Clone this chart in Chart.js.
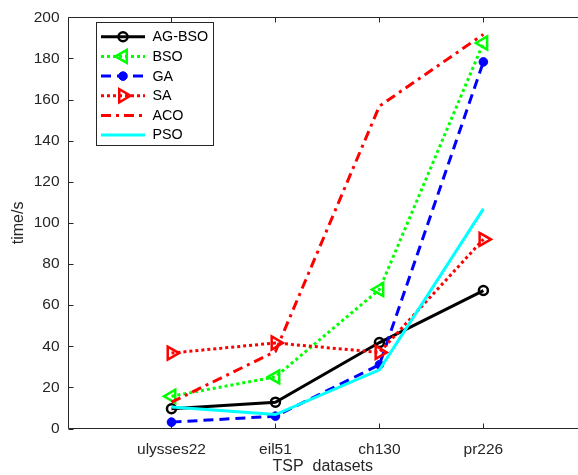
<!DOCTYPE html>
<html><head><meta charset="utf-8">
<script src="https://cdn.jsdelivr.net/npm/chart.js@4/dist/chart.umd.min.js"></script>
<style>html,body{margin:0;padding:0;background:#fff;} #wrap{width:578px;height:475px;position:relative;overflow:hidden;}</style>
</head><body><div id="wrap"><canvas id="c" width="578" height="475"></canvas></div>
<script>
// ---- data ----
const categories = ['ulysses22', 'eil51', 'ch130', 'pr226'];
const seriesNames = ['AG-BSO', 'BSO', 'GA', 'SA', 'ACO', 'PSO'];
const agbso = [9.6, 12.8, 41.8, 67.1];
const bso   = [15.7, 25.1, 67.6, 187.5];
const ga    = [3.1, 6.0, 31.0, 178.3];
const sa    = [36.7, 41.6, 37.0, 92.0];
const aco   = [12.8, 37.5, 156.8, 191.7];
const pso   = [10.5, 6.8, 28.5, 106.8];
const yTicks = [0, 20, 40, 60, 80, 100, 120, 140, 160, 180, 200];
const xTitle = 'TSP  datasets';
const yTitle = 'time/s';

const AX = '#262626';
const FONT = 'Liberation Sans, Arial, Helvetica, sans-serif';

function pts(arr){ return arr.map((v,i)=>({x:i+1, y:v})); }

const styles = [
  {color:'#000000', dash:[], pt:'circle', r:4.5, fill:'rgba(0,0,0,0)', rot:0, bw:2.5},
  {color:'#00ff00', dash:[3,3], pt:'triangle', r:7.5, fill:'rgba(0,0,0,0)', rot:-90, bw:2.5},
  {color:'#0000ff', dash:[10,6], pt:'circle', r:4.3, fill:'#0000ff', rot:0, bw:1},
  {color:'#ff0000', dash:[3,3], pt:'triangle', r:7.5, fill:'rgba(0,0,0,0)', rot:90, bw:2.5},
  {color:'#ff0000', dash:[10,5,3,5], pt:false, r:0, fill:'#ff0000', rot:0, bw:0},
  {color:'#00ffff', dash:[], pt:false, r:0, fill:'#00ffff', rot:0, bw:0}
];
const values = [agbso, bso, ga, sa, aco, pso];

const datasets = values.map((v,i)=>({
  label: seriesNames[i],
  data: pts(v),
  borderColor: styles[i].color,
  backgroundColor: styles[i].color,
  borderWidth: 3,
  borderDash: styles[i].dash,
  tension: 0,
  pointStyle: styles[i].pt || 'circle',
  pointRadius: styles[i].r,
  pointRotation: styles[i].rot,
  pointBackgroundColor: styles[i].fill,
  pointBorderColor: styles[i].color,
  pointBorderWidth: styles[i].bw,
  order: values.length - i,
  clip: false
}));

const frame = {
  id: 'frame',
  beforeDatasetsDraw(chart){
    const {ctx, chartArea:a, scales:{x, y}} = chart;
    const L = Math.round(a.left)+0.5, T = Math.round(a.top)+0.5, B = Math.round(a.bottom)-0.5, R = a.right;
    ctx.save();
    ctx.strokeStyle = AX; ctx.lineWidth = 1; ctx.setLineDash([]);
    ctx.beginPath();
    ctx.moveTo(R, T); ctx.lineTo(L, T); ctx.lineTo(L, B); ctx.lineTo(R, B);
    x.ticks.forEach(t=>{
      const px = Math.round(x.getPixelForValue(t.value))+0.5;
      ctx.moveTo(px, B); ctx.lineTo(px, B-5);
      ctx.moveTo(px, T); ctx.lineTo(px, T+5);
    });
    y.ticks.forEach(t=>{
      const py = Math.round(y.getPixelForValue(t.value))+0.5;
      ctx.moveTo(L, py); ctx.lineTo(L+5, py);
    });
    ctx.stroke();
    ctx.restore();
  }
};

function marker(ctx, s, cx, cy){
  if(!s.pt) return;
  ctx.save();
  ctx.setLineDash([]);
  ctx.lineWidth = s.bw;
  ctx.strokeStyle = s.color;
  ctx.fillStyle = s.fill;
  ctx.translate(cx, cy);
  ctx.rotate(s.rot*Math.PI/180);
  ctx.beginPath();
  if(s.pt === 'circle'){
    ctx.arc(0,0,s.r,0,Math.PI*2);
  } else {
    const r = s.r;
    ctx.moveTo(0, -r);
    ctx.lineTo(r*Math.sqrt(3)/2, r/2);
    ctx.lineTo(-r*Math.sqrt(3)/2, r/2);
    ctx.closePath();
  }
  ctx.fill(); ctx.stroke();
  ctx.restore();
}

const legendBox = {
  id: 'legendBox',
  afterDraw(chart){
    const ctx = chart.ctx;
    const bx = 96.5, by = 22.5, bw = 117, bh = 123;
    ctx.save();
    ctx.fillStyle = '#ffffff';
    ctx.fillRect(bx, by, bw, bh);
    ctx.strokeStyle = AX; ctx.lineWidth = 1; ctx.setLineDash([]);
    ctx.strokeRect(bx, by, bw, bh);
    ctx.font = '14.3px ' + FONT;
    ctx.textBaseline = 'middle';
    ctx.textAlign = 'left';
    chart.data.datasets.forEach((d,i)=>{
      const s = styles[i];
      const yy = 36.8 + i*19.65;
      ctx.save();
      ctx.strokeStyle = s.color; ctx.lineWidth = 3; ctx.setLineDash(s.dash);
      ctx.beginPath(); ctx.moveTo(101, yy); ctx.lineTo(145, yy); ctx.stroke();
      ctx.restore();
      marker(ctx, s, 123, yy);
      ctx.fillStyle = '#000000';
      ctx.fillText(d.label, 152.5, yy+0.5);
    });
    ctx.restore();
  }
};

new Chart(document.getElementById('c'), {
  type: 'line',
  data: { datasets },
  options: {
    responsive: false,
    animation: false,
    devicePixelRatio: 1,
    layout: { autoPadding: false, padding: { top: 16, right: 0, left: 0, bottom: 0 } },
    plugins: { legend: { display: false }, tooltip: { enabled: false } },
    scales: {
      x: {
        type: 'linear', min: 0, max: 4.91,
        afterBuildTicks: s => { s.ticks = categories.map((c,i)=>({value: i+1})); },
        afterFit: s => { s.height = 46.5; s.paddingLeft = 0; s.paddingRight = 0; },
        grid: { display: false, drawTicks: false },
        border: { display: false },
        ticks: {
          autoSkip: false, maxRotation: 0, padding: 12,
          color: AX, font: { family: FONT, size: 15.5 },
          callback: v => categories[Math.round(v)-1] || ''
        },
        title: { display: true, text: xTitle, color: AX, font: { family: FONT, size: 16, lineHeight: 1.0 }, padding: { top: 0, bottom: 0 } }
      },
      y: {
        min: 0, max: 200,
        afterBuildTicks: s => { s.ticks = yTicks.map(v=>({value: v})); },
        afterFit: s => { s.width = 67.5; },
        grid: { display: false, drawTicks: false },
        border: { display: false },
        ticks: { padding: 8, color: AX, font: { family: FONT, size: 15.5 } },
        title: { display: true, text: yTitle, color: AX, font: { family: FONT, size: 16 }, padding: { top: 9, bottom: 0 } }
      }
    }
  },
  plugins: [frame, legendBox]
});
</script>
</body></html>
